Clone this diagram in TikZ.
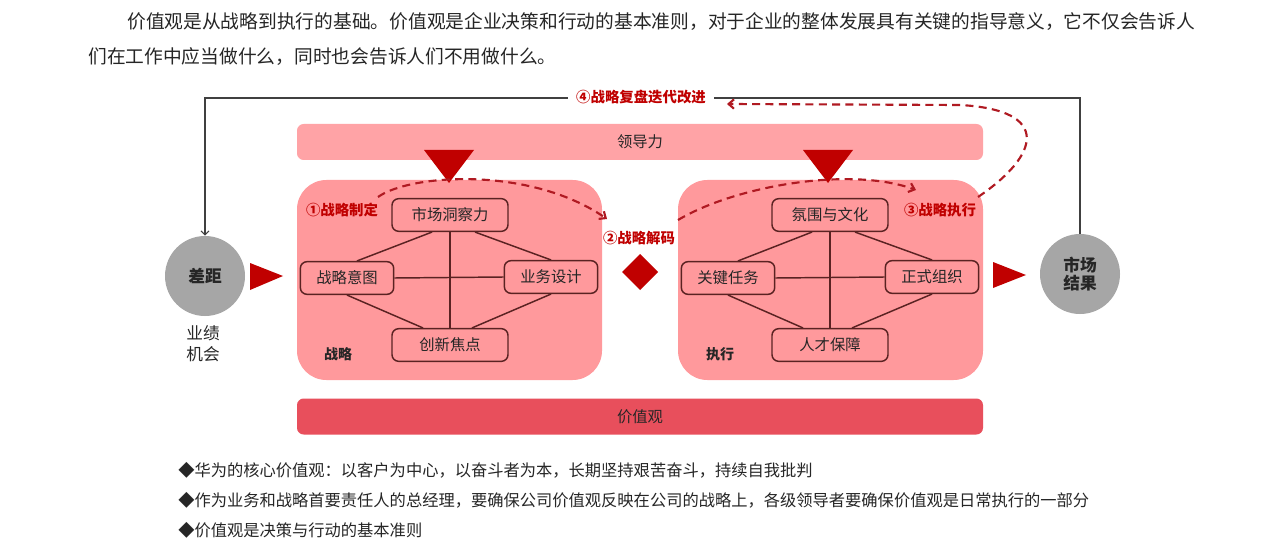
\documentclass[tikz,border=0pt]{standalone}
\usepackage{fontspec}
\setmainfont{Noto Sans CJK SC}
\usetikzlibrary{calc,arrows.meta}
\definecolor{barC}{HTML}{FFA3A6}
\definecolor{boxC}{HTML}{FF999C}
\definecolor{valC}{HTML}{E84F5C}
\definecolor{redC}{HTML}{C00000}
\definecolor{dashC}{HTML}{B01A22}
\definecolor{lineC}{HTML}{5A2222}
\definecolor{grayC}{HTML}{A6A6A6}
\definecolor{txtC}{HTML}{262626}
\begin{document}
\begin{tikzpicture}[x=0.75pt,y=-0.75pt,
  bigbox/.style={fill=boxC, rounded corners=22pt, minimum width=228.75pt, minimum height=150pt, inner sep=0pt},
  bar/.style={rounded corners=5pt, minimum width=514.5pt, minimum height=27pt, inner sep=0pt, font=\fontsize{11.5}{13}\selectfont, text=txtC},
  item/.style={draw=lineC, line width=1.1pt, rounded corners=5pt, minimum height=24.5pt, inner sep=0pt, font=\fontsize{11.5}{13}\selectfont, text=txtC},
  wide/.style={item, minimum width=87pt},
  narrow/.style={item, minimum width=70pt},
  link/.style={draw=lineC, line width=1.1pt},
  circ/.style={circle, fill=grayC, minimum size=60pt, inner sep=0pt, font=\bfseries\fontsize{12.5}{15}\selectfont, text=txtC, align=center},
  redlab/.style={text=redC, font=\bfseries\fontsize{10.8}{12}\selectfont, inner sep=1pt},
  flow/.style={dashC, line width=1.6pt, dash pattern=on 6pt off 4pt, -{Straight Barb[length=4pt,width=7pt]}},
  fb/.style={draw=black!75, line width=0.8pt},
  tri/.style={fill=redC, draw=none},
  head/.style={anchor=west, inner sep=0pt, font=\fontsize{14.05}{16}\selectfont, text=txtC},
  bullet/.style={anchor=west, inner sep=0pt, font=\fontsize{12.2}{14}\selectfont, text=txtC},
  boxlab/.style={font=\bfseries\fontsize{10.5}{12}\selectfont, text=txtC}
]
\useasboundingbox[fill=white] (0,0) rectangle (1280,545);

% header text
\node[head] (h1) at (127,22) {价值观是从战略到执行的基础。价值观是企业决策和行动的基本准则，对于企业的整体发展具有关键的指导意义，它不仅会告诉人};
\node[head] (h2) at (88,57) {们在工作中应当做什么，同时也会告诉人们不用做什么。};

% bars
\node[bar, fill=barC] (lead) at (640,142) {领导力};
\node[bar, fill=valC] (val) at (640,416.5) {价值观};

% big boxes
\node[bigbox] (strat) at (449.5,280) {};
\node[bigbox] (exec) at (830.5,280) {};
\node[boxlab] (stratlab) at (338,354) {战略};
\node[boxlab] (execlab) at (720,354) {执行};

% circles
\node[circ] (gap) at (205,276) {差距};
\node[circ] (mr) at (1080,274) {市场\\[-2pt]结果};
\node[align=center, font=\fontsize{12.5}{16}\selectfont, text=txtC] (opp) at (203,344) {业绩\\机会};

% strategy items
\node[wide] (mkt) at (450,215) {市场洞察力};
\node[narrow] (int) at (347,278) {战略意图};
\node[narrow] (biz) at (551,277) {业务设计};
\node[wide] (inn) at (450,345) {创新焦点};
\draw[link] (mkt.south) -- (inn.north);
\draw[link] (int.east) -- (biz.west);
\draw[link] ($(mkt.south)+(-18,0)$) -- ($(int.north)+(10,0)$);
\draw[link] ($(mkt.south)+(25,0)$) -- (biz.north);
\draw[link] (int.south) -- ($(inn.north)+(-27,0)$);
\draw[link] (biz.south) -- ($(inn.north)+(22,0)$);

% execution items
\node[wide] (cul) at (830,215) {氛围与文化};
\node[narrow] (task) at (728,278) {关键任务};
\node[narrow] (org) at (932,277) {正式组织};
\node[wide] (tal) at (830,345) {人才保障};
\draw[link] (cul.south) -- (tal.north);
\draw[link] (task.east) -- (org.west);
\draw[link] ($(cul.south)+(-18,0)$) -- ($(task.north)+(10,0)$);
\draw[link] ($(cul.south)+(25,0)$) -- (org.north);
\draw[link] (task.south) -- ($(tal.north)+(-27,0)$);
\draw[link] (org.south) -- ($(tal.north)+(22,0)$);

% red triangles and diamond
\fill[tri] (424,150) -- (474,150) -- (449,183) -- cycle;
\fill[tri] (803,150) -- (853,150) -- (828,183) -- cycle;
\fill[tri] (250,263) -- (283,276) -- (250,290) -- cycle;
\fill[tri] (993,262) -- (1026,275) -- (993,288) -- cycle;
\fill[tri] (640,254) -- (658,272) -- (640,290) -- (622,272) -- cycle;

% feedback loop
\coordinate (fbR) at (1080,98);
\coordinate (fbL) at (205,98);
\draw[fb, -{Straight Barb[length=3pt,width=6pt]}] (mr.north) -- (fbR) -- (fbL) -- (gap.north);
\node[redlab, fill=white, inner xsep=6pt] (l4) at (641,97) {④战略复盘迭代改进};

% labels
\node[redlab] (l1) at (342,210) {①战略制定};
\node[redlab] (l2) at (639,238) {②战略解码};
\node[redlab] (l3) at (940,210) {③战略执行};

% dashed flows
\coordinate (f1s) at (378,197);
\coordinate (f1e) at (607,219);
\draw[flow] (f1s) .. controls (410,174) and (530,166) .. (f1e);
\coordinate (f2s) at (678,220);
\coordinate (f2e) at (916,190);
\draw[flow] (f2s) .. controls (735,186) and (850,166) .. (f2e);
\coordinate (f3s) at (978,197);
\coordinate (f3e) at (727,104);
\draw[flow] (f3s) .. controls (1040,155) and (1052,110) .. (960,105) -- (f3e);

% bullets
\node[bullet] (b1) at (178,470) {◆华为的核心价值观：以客户为中心，以奋斗者为本，长期坚持艰苦奋斗，持续自我批判};
\node[bullet] (b2) at (178,500) {◆作为业务和战略首要责任人的总经理，要确保公司价值观反映在公司的战略上，各级领导者要确保价值观是日常执行的一部分};
\node[bullet] (b3) at (178,530) {◆价值观是决策与行动的基本准则};
\end{tikzpicture}
\end{document}
